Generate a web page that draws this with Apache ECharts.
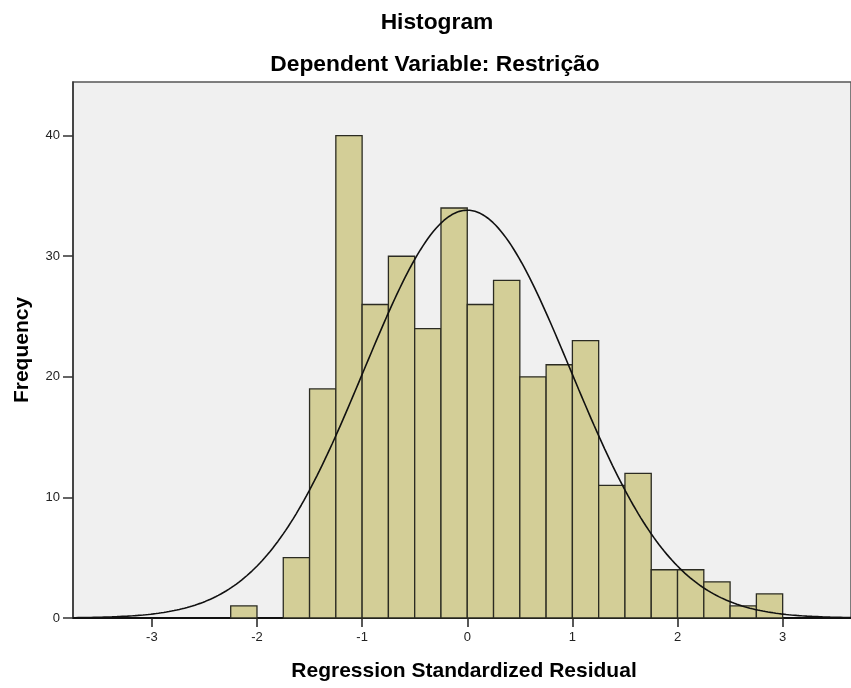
<!DOCTYPE html>
<html>
<head>
<meta charset="utf-8">
<script src="https://cdn.jsdelivr.net/npm/echarts@6/dist/echarts.min.js"></script>
<style>
  html, body { margin: 0; padding: 0; background: #fff; }
  #chart { width: 851px; height: 688px; }
</style>
</head>
<body>
<div id="chart"></div>
<script>
// histogram bins (lower edge) and counts
const binStarts = [-2.25, -1.75, -1.5, -1.25, -1.0, -0.75, -0.5, -0.25, 0.0, 0.25, 0.5, 0.75, 1.0, 1.25, 1.5, 1.75, 2.0, 2.25, 2.5, 2.75]
const binWidth = 0.25
const counts = [1, 5, 19, 40, 26, 30, 24, 34, 26, 28, 20, 21, 23, 11, 12, 4, 4, 3, 1, 2]
const xTicks = [-3, -2, -1, 0, 1, 2, 3]

// fitted normal curve parameters
const mean = 0
const stdDev = 0.985
const N = 334

const barData = binStarts.map((s, i) => [s, s + binWidth, counts[i]])

const curve = []
for (let i = 0; i <= 300; i++) {
  const x = -3.75 + i * (7.4 / 300)
  const z = (x - mean) / stdDev
  curve.push([x, N * binWidth / (stdDev * Math.sqrt(2 * Math.PI)) * Math.exp(-0.5 * z * z)])
}

const chart = echarts.init(document.getElementById('chart'))
const font = "'Liberation Sans', Arial, sans-serif"

chart.setOption({
  animation: false,
  title: [
    { text: 'Histogram', left: 432, top: 6, textAlign: 'center',
      textStyle: { fontFamily: font, fontSize: 22.8, fontWeight: 'bold', color: '#000' } },
    { text: 'Dependent Variable: Restrição', left: 430, top: 48, textAlign: 'center',
      textStyle: { fontFamily: font, fontSize: 22.8, fontWeight: 'bold', color: '#000' } },
  ],
  grid: {
    left: 73, top: 82, right: -5, bottom: 70,
    show: true, backgroundColor: '#f0f0f0', borderColor: '#555', borderWidth: 1.5,
  },
  xAxis: {
    type: 'value', min: -3.75, max: 3.65,
    name: 'Regression Standardized Residual', nameLocation: 'middle', nameGap: 43,
    nameTextStyle: { fontFamily: font, fontSize: 21, fontWeight: 'bold', color: '#000', padding: [0, 0, 0, 4] },
    axisLine: { show: true, onZero: false, lineStyle: { color: '#111', width: 2 } },
    axisTick: { show: true, inside: false, length: 9, customValues: xTicks, lineStyle: { color: '#222', width: 1.5 } },
    axisLabel: { customValues: xTicks, color: '#222', fontFamily: font, fontSize: 13, margin: 13 },
    splitLine: { show: false },
  },
  yAxis: {
    type: 'value', min: 0, max: 44.45, interval: 10,
    name: 'Frequency', nameLocation: 'middle', nameGap: 40, nameRotate: 90,
    nameTextStyle: { fontFamily: font, fontSize: 21, fontWeight: 'bold', color: '#000' },
    axisLine: { show: true, onZero: false, lineStyle: { color: '#333', width: 1.5 } },
    axisTick: { show: true, length: 10, lineStyle: { color: '#333', width: 1.5 } },
    axisLabel: { color: '#222', fontFamily: font, fontSize: 13, margin: 13, showMaxLabel: false },
    splitLine: { show: false },
  },
  series: [
    {
      type: 'custom',
      data: barData,
      encode: { x: [0, 1], y: 2 },
      renderItem: (params, api) => {
        const p0 = api.coord([api.value(0), api.value(2)])
        const p1 = api.coord([api.value(1), 0])
        return {
          type: 'rect',
          shape: { x: p0[0], y: p0[1], width: p1[0] - p0[0], height: p1[1] - p0[1] },
          style: { fill: '#d3ce97', stroke: '#2b2b22', lineWidth: 1.3 },
        }
      },
    },
    {
      type: 'line',
      data: curve,
      showSymbol: false,
      smooth: false,
      lineStyle: { color: '#111', width: 1.6 },
      z: 5,
    },
  ],
})
</script>
</body>
</html>
